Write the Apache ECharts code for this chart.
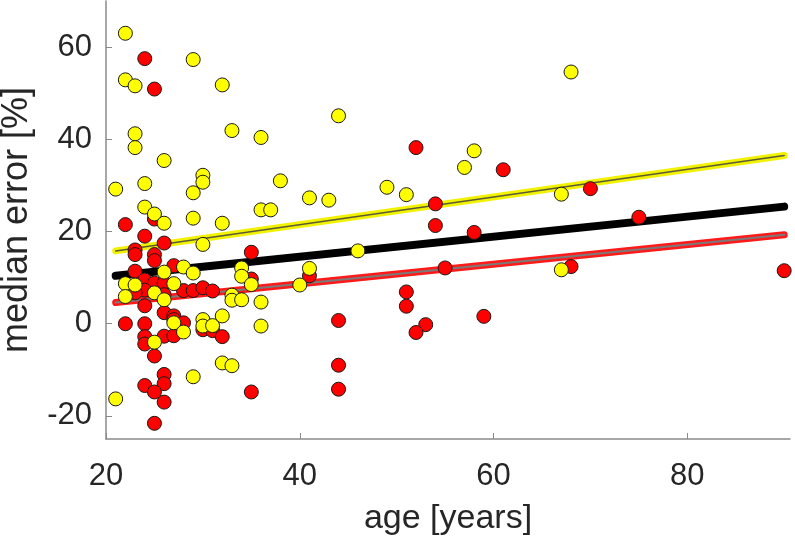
<!DOCTYPE html>
<html>
<head>
<meta charset="utf-8">
<script src="https://cdn.jsdelivr.net/npm/echarts@6/dist/echarts.min.js"></script>
<style>
  html, body { margin: 0; padding: 0; background: #fff; }
  #chart { width: 795px; height: 544px; }
</style>
</head>
<body>
<div id="chart"></div>
<script>
// points: [age, median error]
var yellowPts = [
  [22,63],[29,57.3],[22,52.9],[23,51.6],[32,51.8],
  [33,41.9],[23,41.2],[36,40.4],[23,38.2],[26,35.4],[30,32.2],[30,30.7],[38,31],[21,29.2],
  [24,30.4],[29,28.4],[24,25.3],[25,23.8],[26,21.8],[29,22.9],[32,21.8],[36,24.7],[37,24.7],[30,17.2],
  [22,8.7],[23,8.4],[25,6.7],[22,5.9],[26,5.2],[26,11.2],[27,8.7],[28,12.3],[29,11],[33,6.2],
  [33,5.1],[34,5.2],[34,12.1],[34,10.3],[35,8.5],[36,4.7],[40,8.4],
  [27,0.2],[28,-1.8],[25,-4],[30,0.9],[30,-0.5],[31,-0.4],[32,1.7],[36,-0.5],
  [21,-16.3],[29,-11.5],[32,-8.5],[33,-9.1],
  [68,54.6],[44,45.1],[58,37.5],[57,33.9],[41,27.3],[43,26.8],[49,29.6],[51,28],[67,28.1],
  [46,15.8],[41,12],[67,11.7]
];
var redPts = [
  [24,57.5],[25,50.9],[25,22.7],[22,21.5],[24,19],[26,17.5],[23,16],[23,15],[25,15],[25,13.7],
  [35,15.5],[27,12.6],[23,11.4],[24,9.5],[25,8.8],[26,8.8],[28,7.2],[29,7.2],[30,7.8],[31,7.1],
  [24,7.3],[23,6.7],[26,6.3],[35,9.7],[24,3.9],[26,2.4],[27,1.7],[27,0.9],[28,0.2],[22,0],[24,0],
  [30,-1.3],[31,-1.5],[32,-2.8],[24,-2.8],[24,-4.4],[26,-2.7],[27,-2.6],[25,-7],[26,-11],
  [26,-13],[24,-13.4],[25,-14.8],[26,-17],[25,-21.6],[35,-14.8],
  [52,38.2],[61,33.4],[54,26],[70,29.3],[54,21.3],[58,19.8],[75,23.1],[41,10.4],[55,12.1],
  [68,12.4],[90,11.5],[51,6.9],[51,3.8],[44,0.7],[53,-0.2],[52,-1.9],[59,1.6],[44,-9],[44,-14.2]
];
// fit lines, end points
var yellowFit = [[21,15.8],[90,36.5]];
var blackFit = [[21,10.4],[90,25.4]];
var redFit = [[21,4.6],[90,19.3]];
// ticks
var xTicks = [20,40,60,80];
var yTicks = [-20,0,20,40,60];

var chart = echarts.init(document.getElementById('chart'));
var font = '"Liberation Sans", Arial, sans-serif';
var txt = '#262626';
var axisGray = '#8a8a8a';

function fitLine(data, color, width, z){
  return {
    type: 'line', data: data, symbol: 'none', silent: true, z: z,
    lineStyle: { color: color, width: width, cap: 'round' }
  };
}
function dots(data, color, z){
  return {
    type: 'scatter', data: data, symbol: 'circle', symbolSize: 14, z: z,
    itemStyle: { color: color, borderColor: '#1a1a1a', borderWidth: 1, opacity: 1 }
  };
}

chart.setOption({
  animation: false,
  backgroundColor: '#fff',
  grid: { left: 106, right: 5, top: 1, bottom: 105, containLabel: false, outerBoundsMode: 'none' },
  xAxis: {
    type: 'value', min: 20, max: 90.6,
    name: 'age [years]', nameLocation: 'middle', nameGap: 63,
    nameTextStyle: { fontFamily: font, fontSize: 34, color: txt },
    axisLine: { show: true, onZero: false, lineStyle: { color: axisGray, width: 1.5 } },
    axisTick: { show: true, inside: true, length: 6, customValues: xTicks, lineStyle: { color: axisGray } },
    axisLabel: { customValues: xTicks, fontFamily: font, fontSize: 31, color: txt, margin: 22 },
    splitLine: { show: false }
  },
  yAxis: {
    type: 'value', min: -25, max: 70,
    name: 'median error [%]', nameLocation: 'middle', nameGap: 71, nameRotate: 90,
    nameTextStyle: { fontFamily: font, fontSize: 36, color: txt },
    axisLine: { show: true, onZero: false, lineStyle: { color: axisGray, width: 1.5 } },
    axisTick: { show: true, inside: true, length: 6, customValues: yTicks, lineStyle: { color: axisGray } },
    axisLabel: { customValues: yTicks, fontFamily: font, fontSize: 31, color: txt, margin: 14 },
    splitLine: { show: false }
  },
  series: [
    fitLine(yellowFit, '#f2f200', 7, 1),
    fitLine(yellowFit, '#5a5a3a', 1.5, 2),
    fitLine(blackFit, '#000', 8, 1),
    fitLine(redFit, '#ff1a1a', 7, 1),
    fitLine(redFit, '#7a7a7a', 2, 2),
    dots(redPts, '#ff0000', 3),
    dots(yellowPts, '#ffff00', 4)
  ]
});
</script>
</body>
</html>
